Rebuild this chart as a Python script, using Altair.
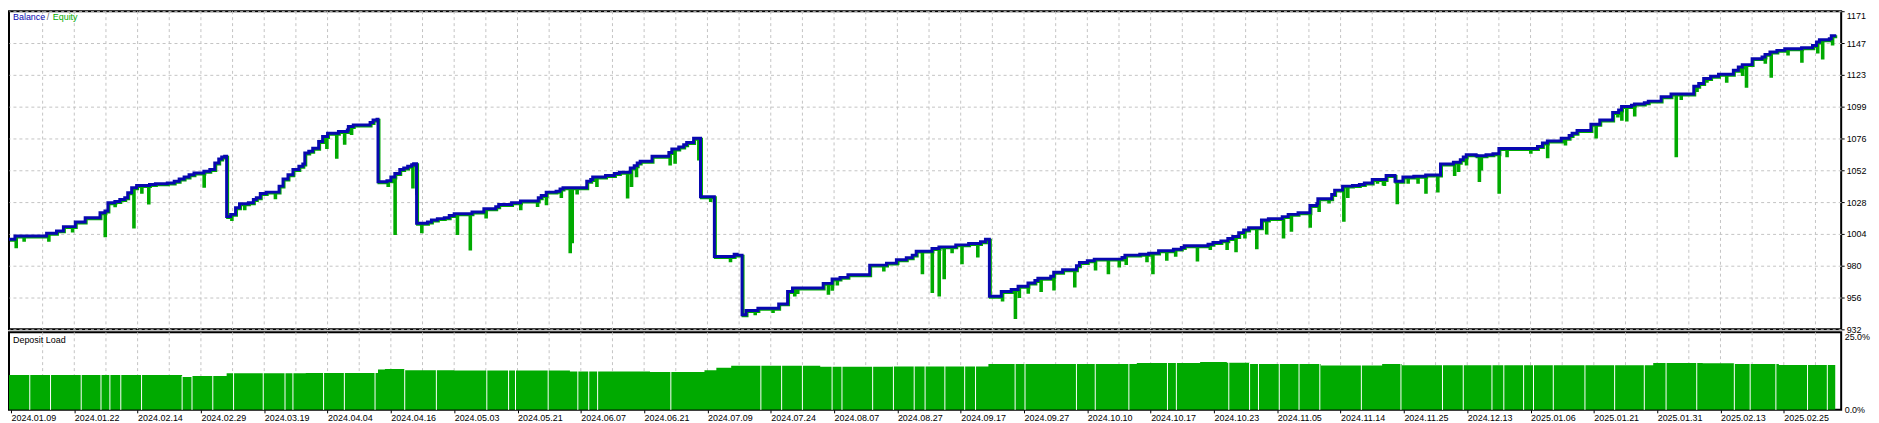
import altair as alt
import pandas as pd

# ---------------- data ----------------
# Balance: deal number where the balance changes, and the new balance
bal_deal = [0, 6, 38, 48, 55, 67, 77, 92, 97, 100, 107, 112, 117, 120, 124, 129, 142, 148, 160, 167,
            172, 177, 182, 187, 197, 203, 208, 212, 215, 218, 220, 224, 229, 233, 242, 247, 250, 254,
            260, 273, 277, 282, 287, 293, 297, 299, 303, 307, 313, 317, 322, 333, 342, 343, 348, 365,
            368, 372, 373, 382, 386, 390, 395, 399, 403, 407, 409, 412, 423, 427, 433, 440, 445, 450,
            468, 480, 492, 495, 508, 517, 535, 538, 543, 553, 557, 560, 584, 588, 590, 603, 612, 617,
            628, 632, 635, 638, 650, 667, 670, 677, 682, 685, 692, 699, 713, 733, 736, 741, 745, 757,
            778, 787, 792, 823, 832, 840, 848, 870, 887, 897, 907, 913, 917, 933, 940, 957, 970, 982,
            987, 991, 1003, 1013, 1020, 1030, 1037, 1040, 1053, 1056, 1065, 1079, 1082, 1090, 1097,
            1125, 1128, 1143, 1152, 1162, 1177, 1185, 1188, 1212, 1217, 1225, 1232, 1237, 1243, 1248,
            1253, 1266, 1273, 1287, 1293, 1303, 1315, 1322, 1323, 1337, 1340, 1348, 1358, 1365, 1370,
            1378, 1392, 1401, 1409, 1420, 1432, 1447, 1460, 1467, 1470, 1473, 1483, 1493, 1500, 1506,
            1545, 1550, 1555, 1569, 1577, 1580, 1585, 1599, 1608, 1621, 1627, 1630, 1640, 1643, 1653,
            1657, 1670, 1680, 1703, 1708, 1713, 1720, 1728, 1743, 1748, 1752, 1762, 1772, 1775, 1780,
            1787, 1795, 1812, 1823, 1827, 1830, 1840, 1842, 1847]
bal_value = [1000.0, 1002.4, 1004.4, 1006.2, 1009.4, 1012.9, 1016.1, 1019.8, 1021.1, 1027.3, 1028.3,
             1029.8, 1031.0, 1034.8, 1038.5, 1040.2, 1041.0, 1041.5, 1042.2, 1043.5, 1045.2, 1046.7,
             1048.4, 1049.7, 1051.0, 1052.2, 1057.2, 1060.1, 1061.6, 1062.2, 1016.9, 1018.6, 1023.6,
             1026.5, 1027.3, 1029.8, 1031.0, 1034.2, 1035.3, 1039.8, 1045.2, 1048.4, 1052.2, 1054.7,
             1056.4, 1064.6, 1065.9, 1068.3, 1073.3, 1077.1, 1079.5, 1080.8, 1082.0, 1084.5, 1085.7,
             1087.5, 1089.4, 1090.0, 1043.0, 1043.9, 1046.7, 1049.2, 1052.2, 1053.4, 1054.7, 1055.9,
             1056.6, 1011.9, 1012.9, 1014.4, 1015.4, 1016.1, 1017.8, 1019.1, 1020.3, 1022.8, 1024.3,
             1026.0, 1027.3, 1028.6, 1031.0, 1032.7, 1035.3, 1036.0, 1037.7, 1038.5, 1043.5, 1044.7,
             1046.7, 1047.7, 1049.2, 1050.2, 1053.4, 1055.1, 1057.2, 1058.4, 1062.2, 1065.1, 1067.6,
             1069.1, 1070.8, 1072.6, 1075.8, 1031.8, 987.0, 988.7, 988.0, 943.2, 946.5, 948.2, 951.4,
             960.7, 963.4, 966.8, 970.0, 971.3, 973.3, 980.5, 982.0, 984.5, 986.0, 988.0, 991.0, 993.0,
             994.2, 995.7, 996.7, 998.0, 999.9, 957.2, 960.7, 962.2, 964.6, 967.1, 968.9, 970.6, 972.1,
             975.1, 977.1, 980.1, 982.5, 983.8, 985.0, 986.3, 988.0, 988.7, 989.5, 991.3, 992.5, 993.7,
             995.0, 996.2, 997.4, 998.7, 1000.4, 1001.9, 1004.9, 1006.9, 1008.6, 1014.4, 1015.4, 1016.9,
             1018.6, 1019.8, 1025.3, 1026.8, 1030.3, 1033.5, 1036.8, 1039.8, 1040.2, 1041.0, 1042.2,
             1044.7, 1047.7, 1043.5, 1046.7, 1047.2, 1048.2, 1056.4, 1057.7, 1059.6, 1061.6, 1063.3,
             1062.6, 1063.3, 1064.1, 1068.1, 1069.6, 1072.1, 1073.6, 1075.8, 1077.8, 1079.5, 1081.5,
             1086.3, 1089.4, 1095.0, 1096.9, 1099.5, 1100.6, 1101.4, 1102.4, 1103.6, 1106.9, 1108.9,
             1114.8, 1116.9, 1120.6, 1122.3, 1123.8, 1126.8, 1129.3, 1131.0, 1135.5, 1136.8, 1138.7,
             1140.5, 1141.7, 1143.0, 1143.7, 1145.4, 1148.0, 1149.7, 1150.4, 1152.7, 1152.7]

# Equity drawdown spikes: deal number and lowest equity reached
dip_deal = [6, 14, 39, 63, 96, 106, 125, 133, 140, 196, 224, 237, 268, 320, 330, 338, 345, 382, 389,
            407, 411, 416, 452, 465, 481, 516, 533, 542, 557, 566, 568, 573, 593, 624, 628, 633, 667,
            672, 696, 708, 728, 753, 771, 793, 796, 827, 831, 836, 883, 897, 908, 922, 932, 939, 944,
            952, 962, 978, 1003, 1016, 1020, 1029, 1042, 1055, 1076, 1097, 1110, 1121, 1128, 1149, 1155,
            1169, 1178, 1200, 1213, 1230, 1239, 1248, 1260, 1270, 1287, 1295, 1314, 1323, 1333, 1348,
            1352, 1382, 1388, 1389, 1402, 1413, 1423, 1431, 1443, 1460, 1464, 1472, 1485, 1487, 1505,
            1513, 1537, 1554, 1572, 1603, 1625, 1629, 1634, 1642, 1684, 1689, 1705, 1715, 1735, 1751,
            1755, 1774, 1780, 1797, 1811, 1827, 1832, 1842]
dip_value = [995.0, 999.9, 999.9, 1006.9, 1003.2, 1025.8, 1009.9, 1036.0, 1027.8, 1040.5, 1015.4, 1023.6,
             1031.8, 1069.6, 1062.2, 1072.8, 1080.1, 1041.0, 1004.9, 1039.8, 1034.8, 1006.2, 1004.9,
             993.3, 1017.4, 1023.6, 1026.0, 1027.3, 1032.7, 991.3, 998.7, 1035.3, 1041.0, 1032.3, 1041.0,
             1048.4, 1057.2, 1058.4, 1060.9, 1029.8, 984.5, 944.7, 946.5, 958.9, 960.7, 960.1, 963.1,
             967.1, 977.5, 982.5, 986.2, 975.6, 961.4, 958.9, 971.8, 991.3, 983.0, 988.0, 955.1, 942.0,
             957.7, 960.9, 962.2, 963.4, 965.6, 978.3, 975.6, 980.5, 982.5, 984.5, 975.6, 985.7, 988.7,
             985.0, 993.7, 993.7, 992.0, 1002.4, 994.2, 1005.4, 1002.4, 1007.4, 1010.4, 1022.3, 1028.6,
             1014.9, 1032.7, 1043.5, 1042.2, 1041.7, 1028.1, 1043.5, 1043.5, 1036.0, 1036.8, 1049.2,
             1052.2, 1057.2, 1044.7, 1053.4, 1036.0, 1063.3, 1065.9, 1062.6, 1072.1, 1077.5, 1093.2,
             1090.7, 1090.2, 1094.0, 1063.3, 1106.4, 1112.4, 1119.3, 1119.3, 1124.3, 1115.6, 1133.5,
             1123.0, 1139.7, 1134.2, 1141.2, 1136.8, 1147.2]

# Deposit load (%): deal number where the level changes, and the level
load_deal = [0, 175, 185, 220, 300, 373, 380, 400, 450, 567, 648, 703, 715, 730, 820, 893, 990, 1140,
             1204, 1231, 1254, 1326, 1388, 1408, 1662, 1712, 1744, 1789, 1846]
load_pct = [11.2, 10.6, 10.9, 11.8, 11.9, 13.0, 13.2, 12.8, 12.7, 12.4, 12.2, 12.8, 13.6, 14.2, 13.9,
            14.0, 14.8, 15.1, 15.4, 15.2, 14.8, 14.3, 14.8, 14.4, 15.1, 15.0, 14.8, 14.5, 14.5]
# deals with no load (thin white gaps between the bars)
gap_deal = [21, 42, 73, 93, 102, 113, 134, 175, 185, 206, 227, 257, 279, 287, 318, 339, 370, 400, 432,
            483, 505, 512, 545, 575, 586, 595, 669, 760, 781, 802, 832, 842, 873, 894, 915, 926, 946,
            966, 977, 1017, 1027, 1079, 1098, 1132, 1171, 1180, 1233, 1254, 1263, 1284, 1304, 1325,
            1367, 1407, 1449, 1470, 1499, 1511, 1531, 1541, 1561, 1593, 1623, 1653, 1675, 1706, 1744,
            1760, 1786, 1818, 1838]

date_labels = ["2024.01.09", "2024.01.22", "2024.02.14", "2024.02.29", "2024.03.19", "2024.04.04",
               "2024.04.16", "2024.05.03", "2024.05.21", "2024.06.07", "2024.06.21", "2024.07.09",
               "2024.07.24", "2024.08.07", "2024.08.27", "2024.09.17", "2024.09.27", "2024.10.10",
               "2024.10.17", "2024.10.23", "2024.11.05", "2024.11.14", "2024.11.25", "2024.12.13",
               "2025.01.06", "2025.01.21", "2025.01.31", "2025.02.13", "2025.02.25"]
tick_deal = [2 + 64 * k for k in range(len(date_labels))]
grid_deal = [2 + 32 * k for k in range(1, 58)]
y_ticks = [932.3, 956.2, 980.1, 1003.9, 1027.8, 1051.7, 1075.6, 1099.4, 1123.3, 1147.2, 1171.1]
load_ticks = [0, 25]

# ---------------- tables ----------------
BLUE = "#0808B0"
GREEN = "#00AA00"
GRID = "#C4C4C4"
FONT = "Liberation Sans"


def step_at(xs, vs, d):
    val = vs[0]
    for x, v in zip(xs, vs):
        if x <= d:
            val = v
    return val


balance = pd.DataFrame({"deal": bal_deal, "value": bal_value})

rows = [(d, 0, v) for d, v in zip(bal_deal, bal_value)]
for d, lo in zip(dip_deal, dip_value):
    rows.append((d, 1, lo))
    rows.append((d + 0.6, 2, step_at(bal_deal, bal_value, d)))
rows.sort(key=lambda r: (r[0], r[1]))
equity = pd.DataFrame({"deal": [r[0] for r in rows], "value": [r[2] for r in rows],
                       "seq": list(range(len(rows)))})

load = pd.DataFrame({"deal": load_deal, "load": load_pct})
gaps = pd.DataFrame({"deal": gap_deal, "base": [0.0] * len(gap_deal),
                     "top": [step_at(load_deal, load_pct, d) + 0.3 for d in gap_deal]})
grid = pd.DataFrame({"deal": grid_deal})

W = 1843
xscale = alt.Scale(domain=[0, 1852], nice=False, zero=False)
dash = [3, 3]

# ---------------- top panel: balance / equity ----------------
yaxis_top = alt.Axis(orient="right", values=y_ticks, format=".0f", grid=True, gridColor=GRID,
                     gridDash=dash, tickSize=3, tickColor="black", labelPadding=2, domain=False,
                     title=None,
                     labelBaseline={"condition": {"test": "datum.value > 1170", "value": "top"},
                                    "value": "middle"})
yscale_top = alt.Scale(domain=[932.3, 1171.1], nice=False, zero=False)

vgrid_top = alt.Chart(grid).mark_rule(color=GRID, strokeDash=dash, strokeWidth=1).encode(
    x=alt.X("deal:Q", scale=xscale, axis=None))

eq_line = alt.Chart(equity).mark_line(color=GREEN, strokeWidth=3, interpolate="step-after",
                                      clip=True, xOffset=1, yOffset=1).encode(
    x=alt.X("deal:Q", scale=xscale, axis=None),
    y=alt.Y("value:Q", scale=yscale_top, axis=yaxis_top),
    order=alt.Order("seq:Q"))

bal_line = alt.Chart(balance).mark_line(color=BLUE, strokeWidth=3, interpolate="step-after",
                                        clip=True).encode(
    x=alt.X("deal:Q", scale=xscale, axis=None),
    y=alt.Y("value:Q", scale=yscale_top, axis=yaxis_top))


def label(text, x, y, color):
    return alt.Chart(pd.DataFrame({"t": [text]})).mark_text(
        align="left", baseline="middle", font=FONT, fontSize=9, color=color).encode(
        text="t:N", x=alt.value(x), y=alt.value(y))


top = alt.layer(vgrid_top, eq_line, bal_line,
                label("Balance", 4, 6, BLUE), label("/", 38, 6, "#666666"),
                label("Equity", 44, 6, GREEN)).properties(width=W, height=320)

# ---------------- bottom panel: deposit load ----------------
dates_js = "[" + ",".join("'" + s + "'" for s in date_labels) + "]"
ticks_js = "[" + ",".join(str(t) for t in tick_deal) + "]"
xaxis_bot = alt.Axis(orient="bottom", values=tick_deal,
                     labelExpr=f"{dates_js}[indexof({ticks_js}, datum.value)]",
                     labelAlign="left", labelFlush=False, labelOverlap=False, tickSize=3,
                     tickColor="black", labelPadding=1, domain=False, grid=False, title=None)
yscale_bot = alt.Scale(domain=[0, 25], nice=False, zero=True)
yaxis_bot = alt.Axis(orient="right", values=load_ticks,
                     labelExpr="format(datum.value, '.1f') + '%'", ticks=False, grid=False,
                     domain=False, labelPadding=3, title=None,
                     labelBaseline={"condition": {"test": "datum.value > 20", "value": "top"},
                                    "value": "middle"})

vgrid_bot = alt.Chart(grid).mark_rule(color=GRID, strokeDash=dash, strokeWidth=1).encode(
    x=alt.X("deal:Q", scale=xscale, axis=xaxis_bot))

load_area = alt.Chart(load).mark_area(color=GREEN, interpolate="step-after", clip=True).encode(
    x=alt.X("deal:Q", scale=xscale, axis=xaxis_bot),
    y=alt.Y("load:Q", scale=yscale_bot, axis=yaxis_bot))

gap_rules = alt.Chart(gaps).mark_rule(color="white", strokeWidth=1).encode(
    x=alt.X("deal:Q", scale=xscale, axis=xaxis_bot),
    y=alt.Y("base:Q", scale=yscale_bot, axis=yaxis_bot),
    y2="top:Q")

bottom = alt.layer(vgrid_bot, load_area, gap_rules,
                   label("Deposit Load", 4, 8, "black")).properties(width=W, height=78)

chart = alt.vconcat(top, bottom, spacing=3, bounds="flush").resolve_scale(
    x="independent", y="independent").properties(
    padding={"left": 0, "top": 0, "right": 0, "bottom": 0}, background="white"
).configure_view(stroke="black", strokeWidth=2).configure_axis(
    labelFont=FONT, labelFontSize=9, labelColor="black")

chart.save("out.html", embed_options={"renderer": "svg", "actions": False})
